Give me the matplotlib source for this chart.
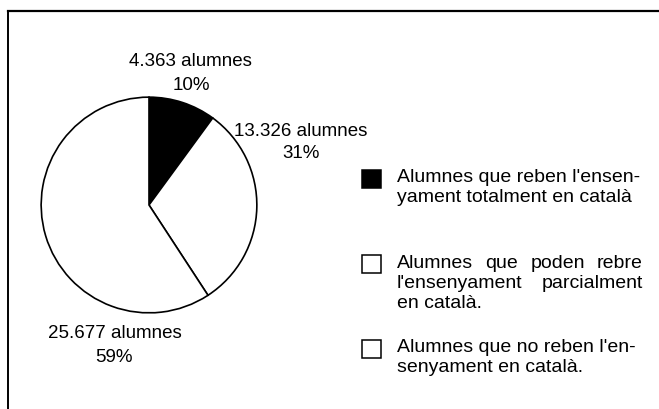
import matplotlib
matplotlib.use("Agg")
import matplotlib.pyplot as plt
from matplotlib.patches import Rectangle

# data
counts = [4363, 13326, 25677]
pct_labels = ["10%", "31%", "59%"]
count_labels = ["4.363 alumnes", "13.326 alumnes", "25.677 alumnes"]
colors = ["black", "white", "white"]
legend_lines = [
    ["Alumnes que reben l'ensen-", "yament totalment en català"],
    ["Alumnes que poden rebre", "l'ensenyament parcialment", "en català."],
    ["Alumnes que no reben l'en-", "senyament en català."],
]

W, H = 659, 409
plt.rcParams['font.family'] = ['Liberation Sans', 'DejaVu Sans']
fig = plt.figure(figsize=(W / 100, H / 100), dpi=100)

# overlay axes in pixel coords
ov = fig.add_axes([0, 0, 1, 1])
ov.set_xlim(0, W)
ov.set_ylim(H, 0)
ov.axis('off')

# frame lines (top + left)
ov.plot([8, W], [11, 11], color='black', lw=1.6)
ov.plot([8, 8], [11, H], color='black', lw=1.4)

# pie
cx, cy, r = 149, 205, 110
pax = fig.add_axes([(cx - r) / W, 1 - (cy + r) / H, 2 * r / W, 2 * r / H])
pax.pie(counts, colors=colors, startangle=90, counterclock=False,
        wedgeprops=dict(edgecolor='black', linewidth=1.2), radius=1)
pax.set_xlim(-1.02, 1.02)
pax.set_ylim(-1.02, 1.02)

fs = 13.5
ov.text(190, 62, count_labels[0], ha='center', va='center', fontsize=fs)
ov.text(191, 86, pct_labels[0], ha='center', va='center', fontsize=fs)
ov.text(234, 131, count_labels[1], ha='left', va='center', fontsize=fs)
ov.text(301, 153, pct_labels[1], ha='center', va='center', fontsize=fs)
ov.text(115, 333, count_labels[2], ha='center', va='center', fontsize=fs)
ov.text(114, 357, pct_labels[2], ha='center', va='center', fontsize=fs)

# legend
lfs = 14
sq_y = [179, 264, 349]
line_y0 = [178, 263, 347]
line_gap = 20
x_text, x_right = 397, 643
renderer = fig.canvas.get_renderer()
for i, lines in enumerate(legend_lines):
    fc = colors[i]
    ov.add_patch(Rectangle((362, sq_y[i] - 9), 19, 18, facecolor=fc,
                           edgecolor='black', lw=1.1))
    for j, line in enumerate(lines):
        y = line_y0[i] + j * line_gap
        justify = (i == 1 and j < 2)
        if not justify:
            ov.text(x_text, y, line, ha='left', va='center', fontsize=lfs)
        else:
            words = line.split()
            ts = [ov.text(0, y, w, ha='left', va='center', fontsize=lfs) for w in words]
            inv = ov.transData.inverted()
            widths = []
            for t in ts:
                bb = t.get_window_extent(renderer)
                p0 = inv.transform((bb.x0, bb.y0))
                p1 = inv.transform((bb.x1, bb.y0))
                widths.append(p1[0] - p0[0])
            gap = (x_right - x_text - sum(widths)) / max(len(words) - 1, 1)
            x = x_text
            for t, wd in zip(ts, widths):
                t.set_x(x)
                x += wd + gap

fig.savefig("out.png", dpi=100)
